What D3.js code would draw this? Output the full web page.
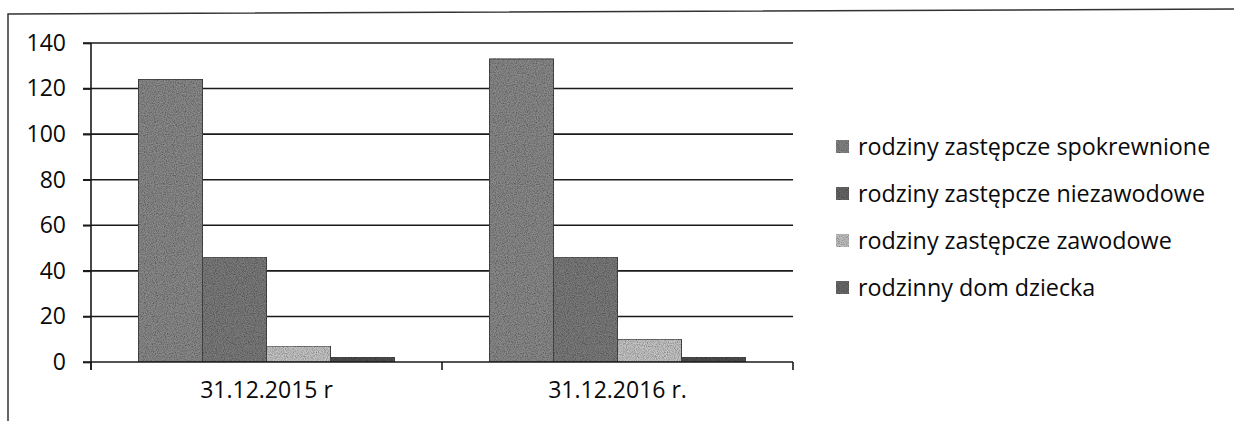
<!DOCTYPE html>
<html>
<head>
<meta charset="utf-8">
<script src="https://cdn.jsdelivr.net/npm/d3@7/dist/d3.min.js"></script>
<style>
  html, body { margin: 0; padding: 0; background: #fff; }
  svg { display: block; }
  text { font-family: "Open Sans", Lato, sans-serif; fill: #0a0a0a; }
</style>
</head>
<body>
<svg id="chart" width="1234" height="421"></svg>
<script>
const categories = ["31.12.2015 r", "31.12.2016 r."];
const seriesNames = [
  "rodziny zastępcze spokrewnione",
  "rodziny zastępcze niezawodowe",
  "rodziny zastępcze zawodowe",
  "rodzinny dom dziecka"
];
const spokrewnione = [124, 133];
const niezawodowe = [46, 46];
const zawodowe = [7, 10];
const dom = [2, 2];
const yTicks = [0, 20, 40, 60, 80, 100, 120, 140];

const seriesValues = [spokrewnione, niezawodowe, zawodowe, dom];
const colors = ["#8a8a8a", "#7b7b7b", "#c6c6c6", "#505050"];
const legendColors = ["#858585", "#676767", "#c2c2c2", "#6c6c6c"];
const FONT = "'Open Sans', Lato, sans-serif";

const svg = d3.select("#chart");

// noise texture filter to mimic scan
const defs = svg.append("defs");
const f = defs.append("filter").attr("id", "noise").attr("x", 0).attr("y", 0).attr("width", "100%").attr("height", "100%");
f.append("feTurbulence").attr("type", "fractalNoise").attr("baseFrequency", 0.9).attr("numOctaves", 2).attr("seed", 3).attr("result", "t");
f.append("feColorMatrix").attr("in", "t").attr("type", "matrix")
  .attr("values", "0 0 0 0 0  0 0 0 0 0  0 0 0 0 0  0 0 0 -1.2 0.8").attr("result", "n");
f.append("feComposite").attr("in", "n").attr("in2", "SourceGraphic").attr("operator", "in").attr("result", "nn");
f.append("feMerge").selectAll("feMergeNode").data(["SourceGraphic", "nn"]).join("feMergeNode").attr("in", d => d);

// outer frame (scanned page border)
svg.append("path")
  .attr("d", "M8,421 L8,14 L1234,9")
  .attr("fill", "none").attr("stroke", "#333").attr("stroke-width", 1.5);

const plotLeft = 91, plotRight = 793, plotTop = 43, plotBottom = 362;

const y = d3.scaleLinear().domain([0, 140]).range([plotBottom, plotTop]);
const x0 = d3.scaleBand().domain(categories).range([plotLeft, plotRight]).padding(0);
const gap = 47.5;
const x1 = d3.scaleBand().domain(d3.range(seriesNames.length)).range([gap, x0.bandwidth() - gap]).padding(0);

// gridlines
svg.append("g").selectAll("line").data(yTicks.filter(d => d > 0)).join("line")
  .attr("x1", plotLeft - 8).attr("x2", plotRight)
  .attr("y1", d => y(d)).attr("y2", d => y(d))
  .attr("stroke", "#1a1a1a").attr("stroke-width", 1.6);

// bars
const groups = svg.append("g").selectAll("g").data(categories).join("g")
  .attr("transform", d => `translate(${x0(d)},0)`);
groups.selectAll("rect").data((d, i) => seriesValues.map((s, k) => ({ k, v: s[i] }))).join("rect")
  .attr("x", d => x1(d.k))
  .attr("width", x1.bandwidth())
  .attr("y", d => y(d.v))
  .attr("height", d => y(0) - y(d.v))
  .attr("fill", d => colors[d.k])
  .attr("stroke", "#4a4a4a").attr("stroke-width", 1)
  .attr("filter", "url(#noise)");

// y axis
const yAxis = d3.axisLeft(y).tickValues(yTicks).tickSize(8).tickPadding(17).tickFormat(d3.format("d"));
const gy = svg.append("g").attr("transform", `translate(${plotLeft},0)`).call(yAxis);
gy.select(".domain").attr("stroke", "#1a1a1a").attr("stroke-width", 1.6).attr("d", `M0,${plotTop}V${plotBottom + 8}`);
gy.selectAll(".tick line").attr("stroke", "#1a1a1a").attr("stroke-width", 1.6);
gy.selectAll(".tick text").style("font-size", "23px").style("font-family", FONT).attr("fill", "#0a0a0a");

// x axis
const xAxis = d3.axisBottom(x0).tickSize(0).tickPadding(20);
const gx = svg.append("g").attr("transform", `translate(0,${plotBottom})`).call(xAxis);
gx.select(".domain").attr("stroke", "#1a1a1a").attr("stroke-width", 1.6).attr("d", `M${plotLeft - 8},0H${plotRight}`);
gx.selectAll(".tick text").style("font-size", "23px").style("font-family", FONT).attr("fill", "#0a0a0a");
// category boundary ticks
svg.append("g").selectAll("line").data([plotLeft, x0(categories[1]), plotRight]).join("line")
  .attr("x1", d => d).attr("x2", d => d).attr("y1", plotBottom).attr("y2", plotBottom + 8)
  .attr("stroke", "#1a1a1a").attr("stroke-width", 1.6);

// legend
const lg = svg.append("g").attr("transform", "translate(836,147)");
const items = lg.selectAll("g").data(seriesNames).join("g")
  .attr("transform", (d, i) => `translate(0,${i * 47})`);
items.append("rect").attr("x", 0).attr("y", -7).attr("width", 13).attr("height", 13)
  .attr("fill", (d, i) => legendColors[i]).attr("filter", "url(#noise)");
items.append("text").attr("x", 22).attr("y", 0).attr("dy", "0.35em")
  .style("font-size", "23.3px").style("font-family", FONT).text(d => d);
</script>
</body>
</html>
